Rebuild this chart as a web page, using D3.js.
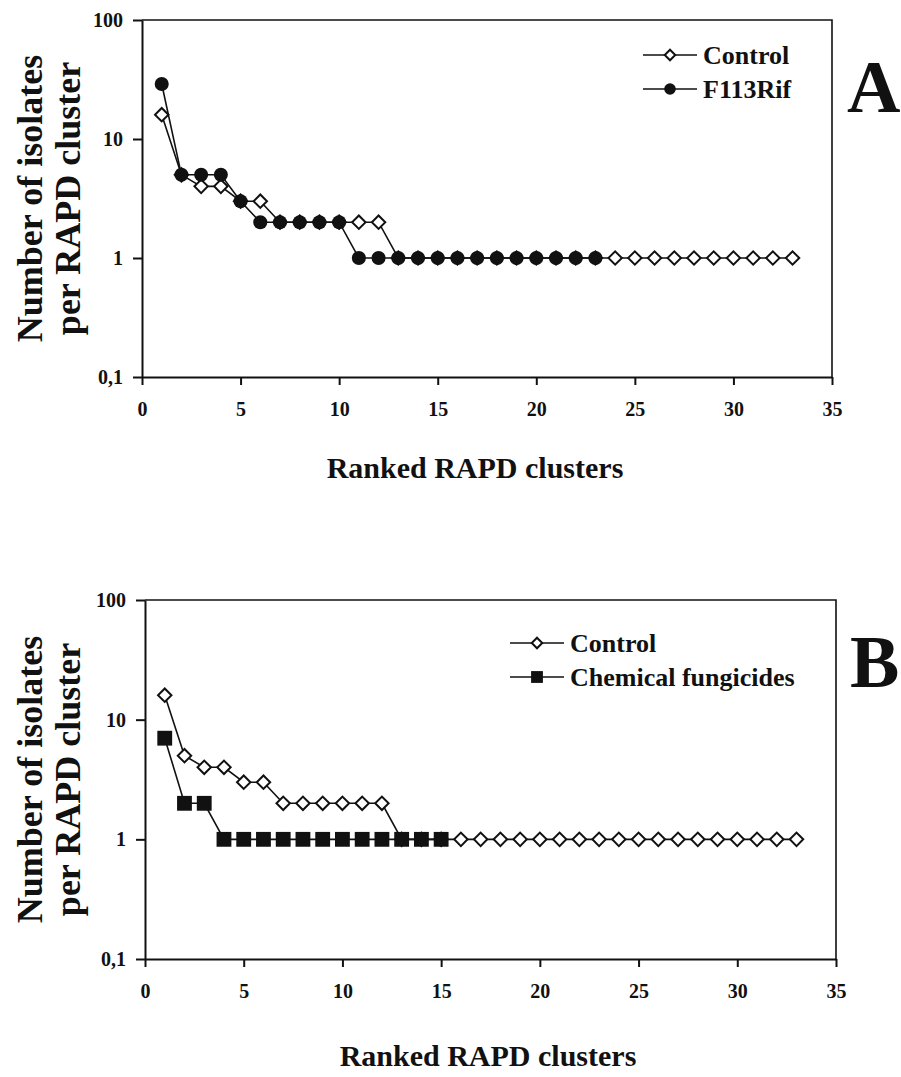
<!DOCTYPE html>
<html>
<head>
<meta charset="utf-8">
<script src="https://cdn.jsdelivr.net/npm/d3@7"></script>
<style>
    body { margin: 0; background: #fff; }
    svg { display: block; }
    text { font-family: "Liberation Serif", "Times New Roman", serif; font-weight: bold; fill: #111; }
    .axis path, .axis line { stroke: #111; stroke-width: 2; }
    .axis text { font-size: 20px; }
</style>
</head>
<body>
<div class="chart"></div>
<script>
// ranked cluster sizes (rank = position + 1)
const controlA = [16, 5, 4, 4, 3, 3, 2, 2, 2, 2, 2, 2, 1, 1, 1, 1, 1, 1, 1, 1, 1, 1, 1, 1, 1, 1, 1, 1, 1, 1, 1, 1, 1];
const f113Rif = [29, 5, 5, 5, 3, 2, 2, 2, 2, 2, 1, 1, 1, 1, 1, 1, 1, 1, 1, 1, 1, 1, 1];
const controlB = [16, 5, 4, 4, 3, 3, 2, 2, 2, 2, 2, 2, 1, 1, 1, 1, 1, 1, 1, 1, 1, 1, 1, 1, 1, 1, 1, 1, 1, 1, 1, 1, 1];
const chemical = [7, 2, 2, 1, 1, 1, 1, 1, 1, 1, 1, 1, 1, 1, 1];

const xTicks = [0, 5, 10, 15, 20, 25, 30, 35];
const yTicks = [0.1, 1, 10, 100];
const yTickLabels = ["0,1", "1", "10", "100"];

const panels = [
    {
        letter: "A",
        left: 142, top: 20, right: 832, bottom: 377,
        titleY: 478, titleX: 475, letterX: 847, letterY: 112,
        legendX: 643, legendY: 55,
        series: [
            {name: "Control", values: controlA, marker: "diamond"},
            {name: "F113Rif", values: f113Rif, marker: "circle"}
        ]
    },
    {
        letter: "B",
        left: 145, top: 600, right: 836, bottom: 959,
        titleY: 1066, titleX: 488, letterX: 850, letterY: 687,
        legendX: 510, legendY: 643,
        series: [
            {name: "Control", values: controlB, marker: "diamond"},
            {name: "Chemical fungicides", values: chemical, marker: "square"}
        ]
    }
];

const svg = d3.select(".chart").append("svg")
    .attr("width", 901)
    .attr("height", 1077);

function drawMarker(g, type, size) {
    if (type === "diamond") {
        g.append("path")
            .attr("d", d3.symbol(d3.symbolSquare, size)())
            .attr("transform", "rotate(45)")
            .attr("fill", "#fff")
            .attr("stroke", "#111")
            .attr("stroke-width", 2);
    } else if (type === "circle") {
        g.append("path")
            .attr("d", d3.symbol(d3.symbolCircle, size)())
            .attr("fill", "#111");
    } else {
        g.append("path")
            .attr("d", d3.symbol(d3.symbolSquare, size)())
            .attr("fill", "#111");
    }
}

const plotSize = {diamond: 90, circle: 155, square: 220};
const legendSize = {diamond: 55, circle: 105, square: 140};

panels.forEach(p => {
    const x = d3.scaleLinear().domain([0, 35]).range([p.left, p.right]);
    const y = d3.scaleLog().domain([0.1, 100]).range([p.bottom, p.top]);

    const g = svg.append("g").attr("class", "panel");

    // frame (top and right)
    g.append("path")
        .attr("d", `M${p.left},${p.top}H${p.right}V${p.bottom}`)
        .attr("fill", "none")
        .attr("stroke", "#111")
        .attr("stroke-width", 1.6);

    g.append("g")
        .attr("class", "x axis")
        .attr("transform", `translate(0,${p.bottom})`)
        .call(d3.axisBottom(x).tickValues(xTicks).tickSize(8).tickSizeOuter(0).tickPadding(17));

    g.append("g")
        .attr("class", "y axis")
        .attr("transform", `translate(${p.left},0)`)
        .call(d3.axisLeft(y).tickValues(yTicks).tickSize(9).tickSizeOuter(0).tickPadding(10)
            .tickFormat(d => yTickLabels[yTicks.indexOf(d)]));

    const line = d3.line()
        .x((d, i) => x(i + 1))
        .y(d => y(d));

    p.series.forEach(s => {
        g.append("path")
            .datum(s.values)
            .attr("d", line)
            .attr("fill", "none")
            .attr("stroke", "#111")
            .attr("stroke-width", 1.6);

        g.selectAll(null)
            .data(s.values)
            .join("g")
            .attr("transform", (d, i) => `translate(${x(i + 1)},${y(d)})`)
            .each(function () {
                drawMarker(d3.select(this), s.marker, plotSize[s.marker]);
            });
    });

    // legend
    p.series.forEach((s, i) => {
        const ly = p.legendY + i * 34;
        const lg = g.append("g").attr("transform", `translate(${p.legendX},${ly})`);
        lg.append("line")
            .attr("x1", 0).attr("x2", 54)
            .attr("stroke", "#111").attr("stroke-width", 1.6);
        lg.append("g").attr("transform", "translate(27,0)")
            .call(sel => drawMarker(sel, s.marker, legendSize[s.marker]));
        lg.append("text")
            .attr("x", 60)
            .attr("y", 9)
            .attr("font-size", 26)
            .text(s.name);
    });

    // axis titles
    g.append("text")
        .attr("x", p.titleX)
        .attr("y", p.titleY)
        .attr("text-anchor", "middle")
        .attr("font-size", 30)
        .text("Ranked RAPD clusters");

    const cy = (p.top + p.bottom) / 2;
    const yt = g.append("text")
        .attr("transform", `translate(0,${cy}) rotate(-90)`)
        .attr("text-anchor", "middle")
        .attr("font-size", 36);
    yt.append("tspan").attr("x", 0).attr("y", 42).text("Number of isolates");
    yt.append("tspan").attr("x", 0).attr("y", 80).text("per RAPD cluster");

    g.append("text")
        .attr("x", p.letterX)
        .attr("y", p.letterY)
        .attr("font-size", 74)
        .text(p.letter);
});
</script>
</body>
</html>
